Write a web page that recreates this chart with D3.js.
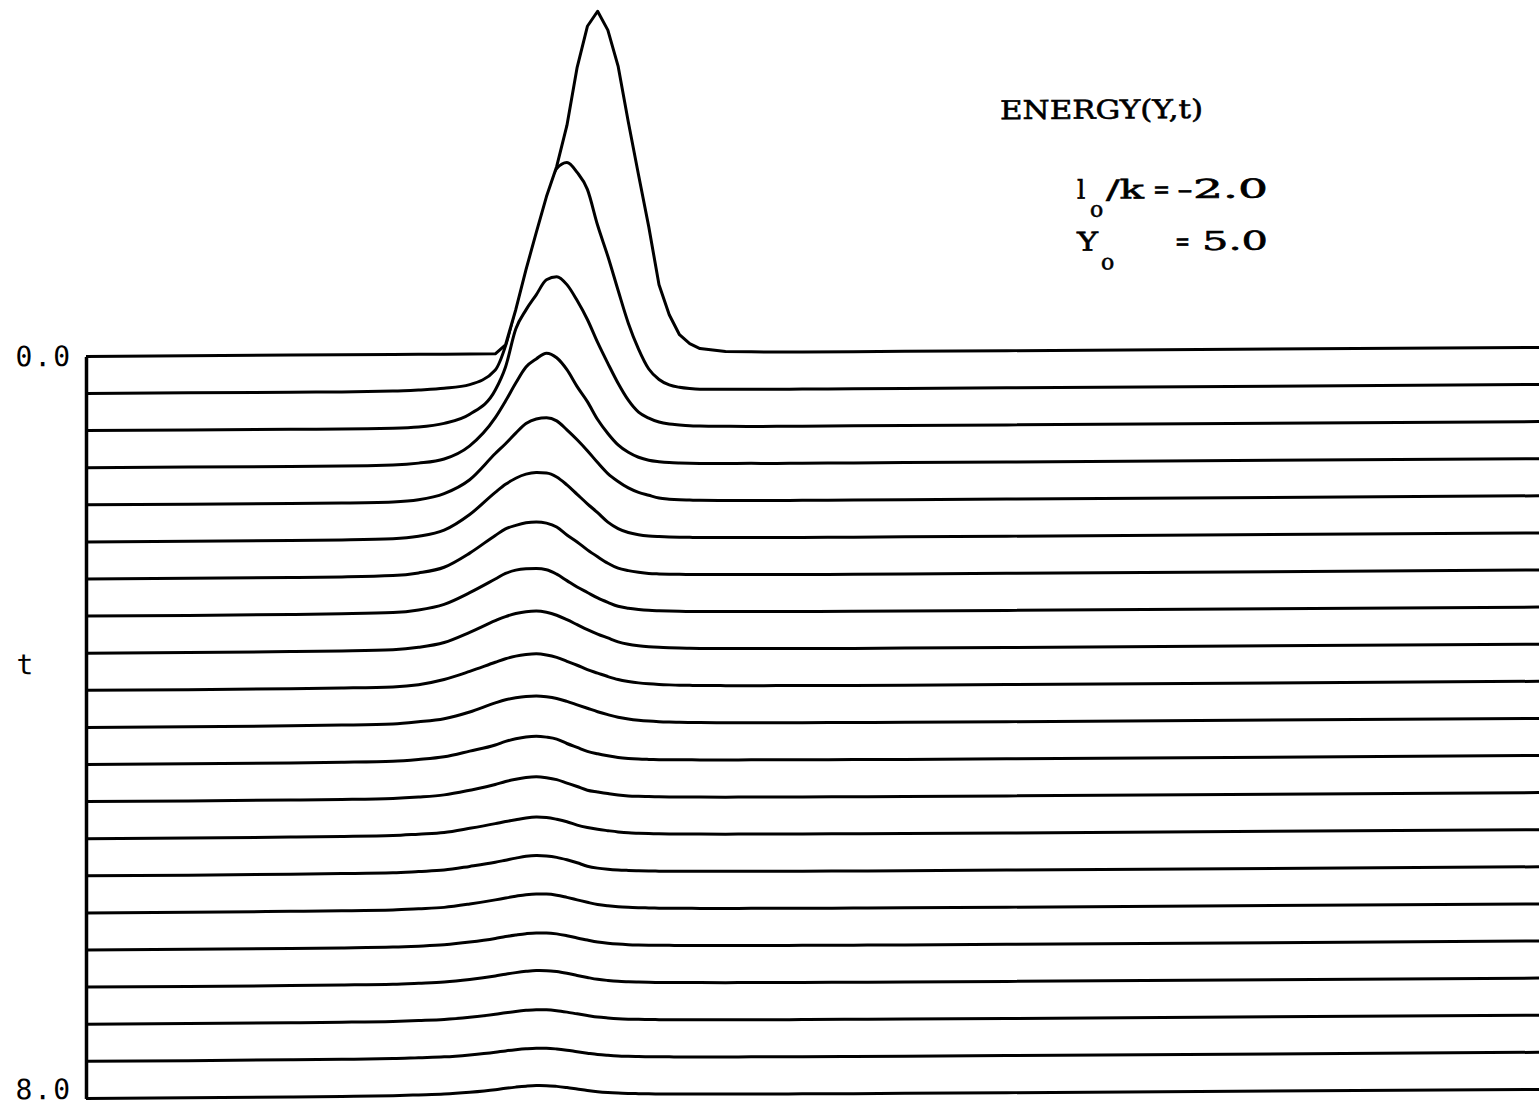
<!DOCTYPE html>
<html>
<head>
<meta charset="utf-8">
<script src="https://cdn.jsdelivr.net/npm/d3@7"></script>
<style>
  body { margin: 0; background: #fff; }
  svg { display: block; }
</style>
</head>
<body>
<div id="chart"></div>
<script>
var yGrid = [0, 1, 2, 2.5, 3, 3.25, 3.5, 3.75,
	4.0, 4.1, 4.2, 4.3, 4.4, 4.5, 4.6, 4.7, 4.8, 4.9, 5.0, 5.1, 5.2, 5.3, 5.4, 5.5, 5.6, 5.7, 5.8, 5.9, 6.0,
	6.25, 6.5, 6.75, 7.0, 7.5, 8.0, 9.0, 14.5];

/* time of each trace, top to bottom */
var times = [0.0, 0.4, 0.8, 1.2, 1.6, 2.0, 2.4, 2.8, 3.2, 3.6, 4.0, 4.4, 4.8, 5.2, 5.6, 6.0, 6.4, 6.8, 7.2, 7.6, 8.0];

/* energy values per trace, same order as yGrid */
var e00 = [0, 0, 0, 0, 0, 0, 0, 0, 0, 0.9, 4.4, 8.4, 12.1, 15.7, 18.7, 22.8, 28.6, 32.7, 34.2, 32.3, 28.7, 23.1, 17.8, 12.6, 6.8, 3.8, 1.8, 0.9, 0.4, 0.1, 0.05, 0, 0, 0, 0, 0, 0];
var e04 = [0, 0, 0, 0, 0.05, 0.15, 0.3, 0.65, 2.1, 4.5, 8.4, 12.4, 16.1, 19.7, 22.2, 22.8, 21.8, 20.1, 16.5, 13.4, 10.0, 6.7, 4.1, 2.1, 1.05, 0.5, 0.25, 0.12, 0.05, 0.02, 0, 0, 0, 0, 0, 0, 0];
var e08 = [0, 0, 0, 0, 0.05, 0.15, 0.5, 1.4, 3.8, 6.1, 9.9, 11.8, 13.3, 14.8, 15.1, 14.3, 12.7, 10.8, 8.5, 6.4, 4.4, 2.7, 1.5, 0.9, 0.5, 0.3, 0.2, 0.12, 0.08, 0.03, 0, 0, 0, 0, 0, 0, 0];
var e12 = [0, 0, 0, 0, 0.08, 0.25, 0.65, 1.95, 4.75, 6.4, 8.2, 9.8, 10.6, 11.17, 10.7, 9.5, 7.8, 6.3, 4.5, 3.1, 1.95, 1.2, 0.7, 0.4, 0.25, 0.15, 0.1, 0.07, 0.05, 0.03, 0.02, 0, 0, 0, 0, 0, 0];
var e16 = [0, 0, 0, 0.02, 0.1, 0.3, 0.9, 2.27, 4.87, 5.85, 6.9, 7.85, 8.3, 8.42, 8.1, 7.2, 6.2, 5.1, 3.9, 2.8, 2.0, 1.35, 0.9, 0.6, 0.32, 0.2, 0.13, 0.1, 0.07, 0.04, 0.02, 0, 0, 0, 0, 0, 0];
var e20 = [0, 0, 0, 0.03, 0.12, 0.35, 0.95, 2.5, 4.7, 5.5, 6.1, 6.5, 6.65, 6.6, 6.2, 5.4, 4.45, 3.5, 2.6, 1.65, 1.0, 0.6, 0.38, 0.25, 0.18, 0.13, 0.1, 0.08, 0.06, 0.04, 0.03, 0.02, 0, 0, 0, 0, 0];
var e24 = [0, 0, 0.02, 0.05, 0.15, 0.4, 0.95, 2.35, 4.1, 4.75, 5.1, 5.35, 5.43, 5.3, 4.9, 4.1, 3.4, 2.6, 1.9, 1.25, 0.75, 0.5, 0.33, 0.2, 0.15, 0.12, 0.1, 0.08, 0.07, 0.05, 0.03, 0.02, 0, 0, 0, 0, 0];
var e28 = [0, 0, 0.03, 0.07, 0.16, 0.4, 0.95, 2.1, 3.45, 4.0, 4.33, 4.45, 4.47, 4.35, 3.9, 3.25, 2.6, 2.05, 1.5, 1.05, 0.65, 0.45, 0.32, 0.23, 0.18, 0.14, 0.11, 0.09, 0.08, 0.06, 0.04, 0.03, 0.02, 0, 0, 0, 0];
var e32 = [0, 0, 0.03, 0.07, 0.16, 0.38, 0.85, 1.85, 3.0, 3.4, 3.7, 3.88, 3.93, 3.8, 3.5, 3.05, 2.55, 2.05, 1.6, 1.2, 0.8, 0.55, 0.4, 0.3, 0.23, 0.18, 0.14, 0.11, 0.09, 0.07, 0.05, 0.03, 0.02, 0, 0, 0, 0];
var e36 = [0, 0, 0.03, 0.07, 0.15, 0.35, 0.85, 1.65, 2.55, 2.9, 3.15, 3.3, 3.37, 3.25, 3.0, 2.6, 2.2, 1.75, 1.4, 1.05, 0.75, 0.55, 0.4, 0.3, 0.23, 0.18, 0.14, 0.12, 0.1, 0.07, 0.05, 0.04, 0.03, 0.01, 0, 0, 0];
var e40 = [0, 0, 0.03, 0.07, 0.15, 0.35, 0.65, 1.3, 2.2, 2.5, 2.7, 2.82, 2.85, 2.77, 2.6, 2.3, 1.95, 1.6, 1.25, 0.95, 0.68, 0.5, 0.37, 0.28, 0.22, 0.18, 0.15, 0.12, 0.1, 0.08, 0.06, 0.04, 0.03, 0.02, 0, 0, 0];
var e44 = [0, 0, 0.03, 0.07, 0.14, 0.3, 0.55, 1.1, 1.7, 2.05, 2.3, 2.48, 2.55, 2.45, 2.25, 1.8, 1.4, 1.0, 0.75, 0.55, 0.38, 0.27, 0.2, 0.16, 0.13, 0.11, 0.1, 0.09, 0.08, 0.06, 0.05, 0.04, 0.03, 0.02, 0, 0, 0];
var e48 = [0, 0, 0.03, 0.06, 0.13, 0.25, 0.45, 0.9, 1.45, 1.75, 1.97, 2.13, 2.2, 2.1, 1.9, 1.55, 1.2, 0.83, 0.65, 0.48, 0.33, 0.23, 0.18, 0.15, 0.12, 0.1, 0.09, 0.08, 0.07, 0.05, 0.04, 0.03, 0.02, 0.01, 0, 0, 0];
var e52 = [0, 0, 0.03, 0.06, 0.12, 0.25, 0.4, 0.8, 1.25, 1.45, 1.63, 1.8, 1.88, 1.83, 1.65, 1.4, 1.05, 0.8, 0.62, 0.48, 0.35, 0.25, 0.2, 0.16, 0.13, 0.11, 0.1, 0.09, 0.08, 0.06, 0.05, 0.04, 0.03, 0.02, 0.01, 0, 0];
var e56 = [0, 0, 0.03, 0.06, 0.11, 0.22, 0.35, 0.7, 1.1, 1.3, 1.5, 1.68, 1.75, 1.7, 1.55, 1.3, 1.0, 0.65, 0.45, 0.33, 0.25, 0.2, 0.16, 0.13, 0.11, 0.1, 0.09, 0.08, 0.07, 0.05, 0.04, 0.03, 0.02, 0.01, 0, 0, 0];
var e60 = [0, 0, 0.03, 0.05, 0.1, 0.2, 0.33, 0.65, 1.05, 1.23, 1.4, 1.55, 1.62, 1.6, 1.48, 1.25, 1.0, 0.75, 0.52, 0.38, 0.28, 0.22, 0.18, 0.15, 0.12, 0.1, 0.09, 0.08, 0.07, 0.05, 0.04, 0.03, 0.02, 0.01, 0, 0, 0];
var e64 = [0, 0, 0.02, 0.05, 0.1, 0.18, 0.3, 0.55, 0.9, 1.08, 1.23, 1.36, 1.43, 1.42, 1.32, 1.13, 0.9, 0.68, 0.48, 0.35, 0.26, 0.2, 0.16, 0.13, 0.11, 0.1, 0.09, 0.08, 0.07, 0.05, 0.04, 0.03, 0.02, 0.01, 0, 0, 0];
var e68 = [0, 0, 0.02, 0.05, 0.1, 0.18, 0.28, 0.52, 0.86, 1.03, 1.18, 1.3, 1.37, 1.36, 1.26, 1.08, 0.86, 0.65, 0.46, 0.34, 0.25, 0.2, 0.16, 0.13, 0.11, 0.1, 0.09, 0.08, 0.07, 0.05, 0.04, 0.03, 0.02, 0.01, 0, 0, 0];
var e72 = [0, 0, 0.02, 0.04, 0.09, 0.16, 0.25, 0.45, 0.73, 0.88, 1.01, 1.11, 1.17, 1.15, 1.06, 0.91, 0.73, 0.56, 0.4, 0.3, 0.22, 0.17, 0.14, 0.12, 0.1, 0.09, 0.08, 0.07, 0.06, 0.04, 0.03, 0.02, 0.02, 0.01, 0, 0, 0];
var e76 = [0, 0, 0.02, 0.04, 0.08, 0.15, 0.22, 0.4, 0.65, 0.78, 0.89, 0.98, 1.03, 1.02, 0.94, 0.81, 0.65, 0.5, 0.36, 0.27, 0.2, 0.16, 0.13, 0.11, 0.09, 0.08, 0.07, 0.06, 0.06, 0.04, 0.03, 0.02, 0.01, 0, 0, 0, 0];
var e80 = [0, 0, 0.02, 0.04, 0.08, 0.14, 0.21, 0.38, 0.62, 0.75, 0.86, 0.95, 1.0, 0.99, 0.91, 0.78, 0.63, 0.48, 0.35, 0.26, 0.2, 0.16, 0.13, 0.11, 0.09, 0.08, 0.07, 0.06, 0.05, 0.04, 0.03, 0.02, 0.01, 0, 0, 0, 0];

var energy = [e00, e04, e08, e12, e16, e20, e24, e28, e32, e36, e40,
	e44, e48, e52, e56, e60, e64, e68, e72, e76, e80];

/* size of the graphic */
var width = 1539;
var height = 1106;

var svg = d3.select("#chart")
	.append("svg")
		.attr("width", width)
		.attr("height", height);

// the scanned page is tilted a little: lines rise slowly to the right
var tilt = -0.355;
var tiltOrigin = 875;
var g = svg.append("g")
	.attr("transform", "translate(0," + (-tiltOrigin * Math.tan(tilt * Math.PI / 180)) + ") skewY(" + tilt + ")");

/* scales: Y along the page, t down the page, energy as height above each baseline */
var x = d3.scaleLinear().domain([0, 14.2]).range([86, 1539]);
var tScale = d3.scaleLinear().domain([0, 8]).range([351.5, 1093.5]);
var amp = d3.scaleLinear().domain([0, 1]).range([0, 10]);

/* draw back traces first; each one blanks what lies above it (hidden lines) */
for (var i = times.length - 1; i >= 0; i--) {
	var base = tScale(times[i]);
	var vals = energy[i];
	var pts = yGrid.map(function(yv, j) { return [x(yv), base - amp(vals[j])]; });
	var curve = i === 0 ? d3.curveLinear : d3.curveMonotoneX;

	g.append("path")
		.attr("d", d3.area().x(function(d) { return d[0]; }).y0(-80).y1(function(d) { return d[1]; }).curve(curve)(pts))
		.attr("fill", "#fff");

	g.append("path")
		.attr("d", d3.line().curve(curve)(pts))
		.attr("fill", "none")
		.attr("stroke", "#000")
		.attr("stroke-width", 3)
		.attr("stroke-linejoin", "round");
}

/* left axis with only the end labels */
var axis = g.append("g")
	.attr("transform", "translate(86,0)")
	.call(d3.axisLeft(tScale)
		.tickValues([0, 8])
		.tickSize(0)
		.tickSizeOuter(0)
		.tickPadding(14)
		.tickFormat(d3.format(".1f")));

axis.select(".domain")
	.attr("stroke", "#000")
	.attr("stroke-width", 3.5);

axis.selectAll("text")
	.attr("fill", "#000")
	.style("font-family", "'DejaVu Sans Mono', monospace")
	.style("font-size", "28px")
	.style("letter-spacing", "2px");

axis.selectAll(".tick")
	.filter(function(d) { return d === 8; })
	.select("text")
		.attr("dy", "0em");

g.append("text")
	.attr("x", 25)
	.attr("y", 669)
	.attr("text-anchor", "middle")
	.style("font-family", "'DejaVu Sans Mono', monospace")
	.style("font-size", "28px")
	.text("t");

/* annotation block, top right */
var serif = "'DejaVu Serif', serif";
function label(txt, xx, yy, size, len) {
	var el = g.append("text")
		.attr("x", xx)
		.attr("y", yy)
		.attr("fill", "#000")
		.attr("stroke", "#000")
		.attr("stroke-width", 0.6)
		.style("font-family", serif)
		.style("font-size", size + "px")
		.text(txt);
	if (len) el.attr("textLength", len).attr("lengthAdjust", "spacingAndGlyphs");
	return el;
}

label("ENERGY(Y,t)", 1000, 120, 26, 203);

label("l", 1077, 200, 26);
label("o", 1090, 218, 22);
label("/k", 1106, 200, 26, 38);
label("=", 1153, 200, 26, 17);
label("-2.0", 1177, 200, 26, 91);

label("Y", 1077, 252, 26, 21);
label("o", 1101, 271, 22);
label("=", 1175, 252, 26, 15);
label("5.0", 1202, 252, 26, 66);
</script>
</body>
</html>
